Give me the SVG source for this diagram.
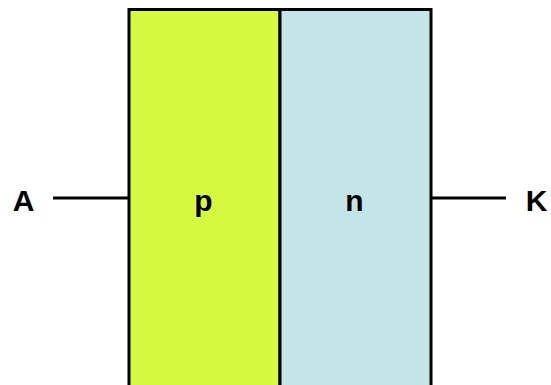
<svg xmlns="http://www.w3.org/2000/svg" width="551" height="385" viewBox="0 0 551 385">
<style>
.lbl{font-family:"Liberation Sans",Arial,sans-serif;font-weight:bold;font-size:30px;fill:#000;text-anchor:middle}
.box{stroke:#000;stroke-width:3}
.wire{stroke:#000;stroke-width:3;fill:none}
</style>
<rect width="551" height="385" fill="#fff"/>
<g id="p-region">
<rect class="box" x="129" y="9.5" width="151" height="380" fill="#d6fa3f"/>
<text class="lbl" x="203.5" y="211">p</text>
</g>
<g id="n-region">
<rect class="box" x="280" y="9.5" width="151" height="380" fill="#c4e5e7"/>
<text class="lbl" x="354.5" y="211">n</text>
</g>
<g id="anode">
<text class="lbl" x="23.5" y="211">A</text>
</g>
<g id="cathode">
<text class="lbl" x="536.5" y="211">K</text>
</g>
<g id="connectors">
<line class="wire" x1="53" y1="198" x2="129" y2="198"/>
<line class="wire" x1="431" y1="198" x2="506" y2="198"/>
</g>
</svg>
